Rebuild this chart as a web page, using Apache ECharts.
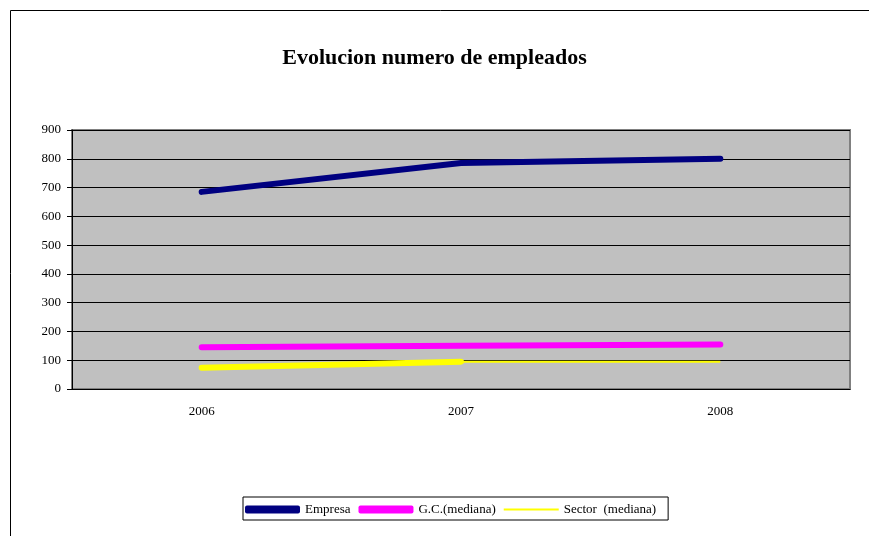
<!DOCTYPE html>
<html>
<head>
<meta charset="utf-8">
<script src="https://cdn.jsdelivr.net/npm/echarts@6/dist/echarts.min.js"></script>
<style>
  html, body { margin: 0; padding: 0; background: #fff; }
  #main { width: 869px; height: 536px; }
</style>
</head>
<body>
<div id="main"></div>
<script>
// datos
const years = ['2006', '2007', '2008']
const empresa = [685, 785, 800]
const gcMediana = [145, 150, 155]
const sectorMediana = [74, 95, 95]
// tramo grueso de la linea amarilla (2006-2007)
const sectorTramo = [74, 95, '-']

const serif = '"Liberation Serif", "DejaVu Serif", serif'

const chart = echarts.init(document.getElementById('main'))
chart.setOption({
  animation: false,
  backgroundColor: '#fff',
  graphic: [{
    type: 'rect',
    shape: { x: 10.5, y: 10.5, width: 880, height: 560 },
    style: { fill: 'none', stroke: '#000', lineWidth: 1 },
    silent: true
  }],
  title: {
    text: 'Evolucion numero de empleados',
    left: 'center',
    top: 42,
    textStyle: { fontFamily: serif, fontSize: 22, fontWeight: 'bold', color: '#000' }
  },
  legend: {
    left: 243,
    top: 497,
    padding: [6, 12, 4, 2],
    borderColor: '#000',
    borderWidth: 1,
    itemWidth: 55,
    itemHeight: 8,
    itemGap: 8,
    textStyle: { fontFamily: serif, fontSize: 13, color: '#000' },
    data: [
      { name: 'Empresa', icon: 'roundRect' },
      { name: 'G.C.(mediana)', icon: 'roundRect' },
      { name: 'Sector  (mediana)', icon: 'path://M0,0H100V4H0Z' }
    ]
  },
  grid: { left: 72, right: 19, top: 130, bottom: 147, containLabel: false,
    show: true, backgroundColor: '#c0c0c0', borderColor: '#808080', borderWidth: 2 },
  xAxis: {
    type: 'category',
    data: years,
    boundaryGap: true,
    axisLine: { lineStyle: { color: '#000', width: 1 } },
    axisTick: { length: 5, lineStyle: { color: '#000' } },
    axisLabel: { fontFamily: serif, fontSize: 13, color: '#000', margin: 16 }
  },
  yAxis: {
    type: 'value',
    min: 0,
    max: 900,
    interval: 100,
    axisLine: { show: true, lineStyle: { color: '#000', width: 1 } },
    axisTick: { show: true, length: 5, lineStyle: { color: '#000' } },
    axisLabel: { fontFamily: serif, fontSize: 13, color: '#000', margin: 11 },
    splitLine: { lineStyle: { color: '#000', width: 1 } }
  },
  series: [
    {
      name: 'Empresa',
      type: 'line',
      data: empresa,
      symbol: 'none',
      itemStyle: { color: '#000080' },
      lineStyle: { color: '#000080', width: 6, cap: 'round', join: 'round' }
    },
    {
      name: 'G.C.(mediana)',
      type: 'line',
      data: gcMediana,
      symbol: 'none',
      itemStyle: { color: '#ff00ff' },
      lineStyle: { color: '#ff00ff', width: 6, cap: 'round', join: 'round' }
    },
    {
      name: 'Sector  (mediana)',
      type: 'line',
      data: sectorMediana,
      symbol: 'none',
      itemStyle: { color: '#ffff00' },
      lineStyle: { color: '#ffff00', width: 2 }
    },
    {
      name: 'sector-tramo',
      type: 'line',
      data: sectorTramo,
      symbol: 'none',
      itemStyle: { color: '#ffff00' },
      lineStyle: { color: '#ffff00', width: 6, cap: 'round' }
    }
  ]
})
</script>
</body>
</html>
